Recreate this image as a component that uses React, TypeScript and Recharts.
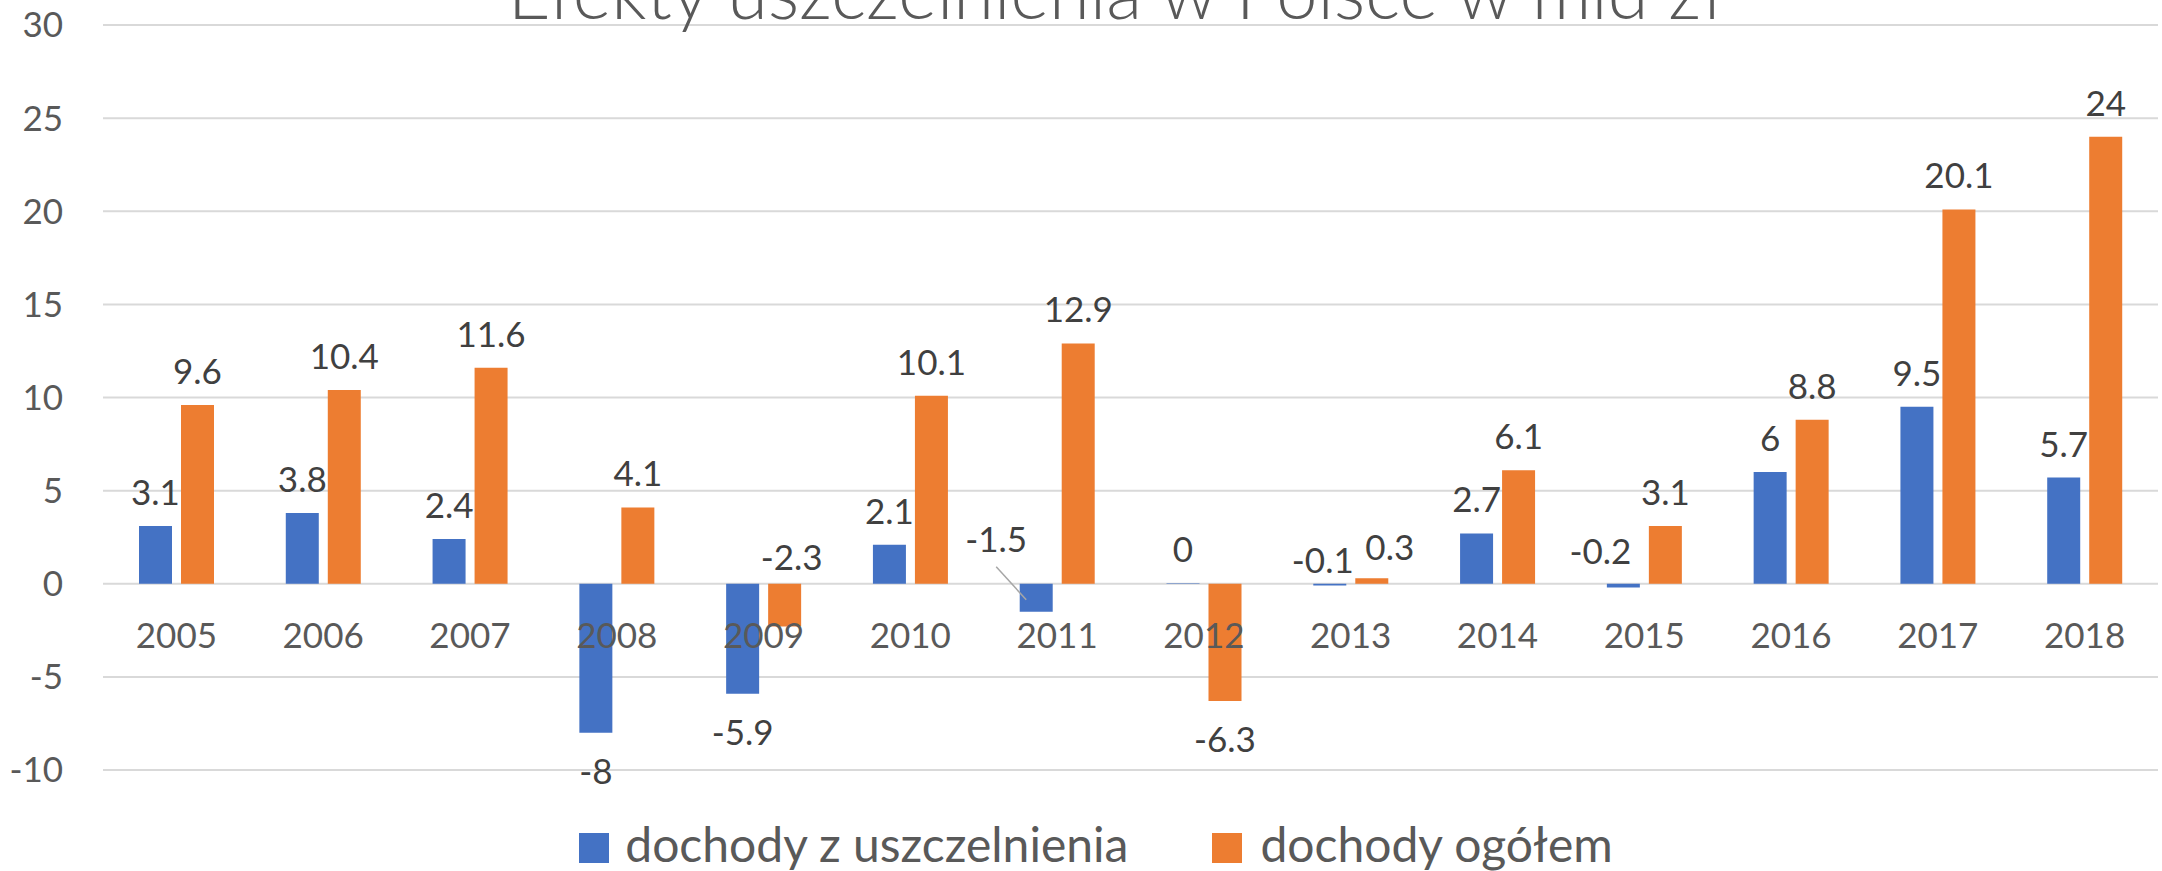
import React from 'react';
import {
  ComposedChart,
  Bar,
  Line,
  XAxis,
  YAxis,
  CartesianGrid,
  Legend,
  LabelList,
} from 'recharts';

const years = ['2005', '2006', '2007', '2008', '2009', '2010', '2011', '2012', '2013', '2014', '2015', '2016', '2017', '2018'];
const dochodyZUszczelnienia = [3.1, 3.8, 2.4, -8, -5.9, 2.1, -1.5, 0, -0.1, 2.7, -0.2, 6, 9.5, 5.7];
const dochodyOgolem = [9.6, 10.4, 11.6, 4.1, -2.3, 10.1, 12.9, -6.3, 0.3, 6.1, 3.1, 8.8, 20.1, 24];
const yTicks = [-10, -5, 0, 5, 10, 15, 20, 25, 30];

const BLUE = '#4472C4';
const ORANGE = '#ED7D31';
const FONT = "Lato, 'Open Sans', sans-serif";

const data = years.map((year, i) => ({
  year,
  uszczelnienie: dochodyZUszczelnienia[i],
  ogolem: dochodyOgolem[i],
}));

// hand-moved labels in the original chart: [dx, dy from default spot, leader line]
const labelNudge: Record<string, [number, number, boolean?]> = {
  'uszczelnienie:2011': [-40, -18, true],
  'uszczelnienie:2013': [-7, 3, false],
  'ogolem:2013': [18, 3, false],
  'uszczelnienie:2015': [-23, -6, false],
  'ogolem:2009': [7, 0, false],
};

function makeValueLabel(series: 'uszczelnienie' | 'ogolem') {
  return (props: any) => {
    const { x, y, width, height, value, index } = props;
    const top = Math.min(y, y + height);
    const bottom = Math.max(y, y + height);
    const cx = x + width / 2;
    const nudge = labelNudge[series + ':' + years[index]];
    let ty: number;
    if (value >= 0) ty = top - 21;
    else if (value > -3) ty = top - 14;
    else ty = bottom + 51;
    let tx = cx;
    let leader = null;
    if (nudge) {
      tx += nudge[0];
      ty += nudge[1];
      if (nudge[2]) {
        leader = <line x1={tx} y1={ty + 15} x2={cx - 10} y2={top + 16} stroke="#a6a6a6" strokeWidth={1.5} />;
      }
    }
    return (
      <g>
        {leader}
        <text x={tx} y={ty} textAnchor="middle" fill="#404040" fontSize={35} fontFamily={FONT}>
          {String(value)}
        </text>
      </g>
    );
  };
}

const YearLabel = (props: any) => {
  const { x, y, value } = props;
  return (
    <text x={x} y={y + 64} textAnchor="middle" fill="#595959" fontSize={35} fontFamily={FONT}>
      {value}
    </text>
  );
};

const renderLegend = () => (
  <div style={{ display: 'flex', justifyContent: 'center', height: 40, fontFamily: FONT, color: '#595959', paddingLeft: 30 }}>
    <div style={{ display: 'flex', alignItems: 'flex-start', marginRight: 84 }}>
      <div style={{ width: 30, height: 30, background: BLUE, marginTop: 9, marginRight: 16 }} />
      <span style={{ fontSize: 48, lineHeight: '40px' }}>dochody z uszczelnienia</span>
    </div>
    <div style={{ display: 'flex', alignItems: 'flex-start' }}>
      <div style={{ width: 30, height: 30, background: ORANGE, marginTop: 9, marginRight: 18 }} />
      <span style={{ fontSize: 48, lineHeight: '40px' }}>dochody ogółem</span>
    </div>
  </div>
);

export default function App() {
  return (
    <div style={{ position: 'absolute', left: 0, top: 0, width: 2162, height: 871, background: '#fff', overflow: 'hidden' }}>
      <ComposedChart
        width={2162}
        height={871}
        data={data}
        margin={{ top: 25, right: 4, left: 0, bottom: 61 }}
        barGap={9}
      >
        <CartesianGrid vertical={false} stroke="#d9d9d9" strokeWidth={2} />
        <XAxis dataKey="year" hide />
        <YAxis
          domain={[-10, 30]}
          ticks={yTicks}
          interval={0}
          axisLine={false}
          tickLine={false}
          tickSize={0}
          tickMargin={40}
          width={103}
          tick={{ fill: '#595959', fontSize: 35, fontFamily: FONT }}
        />
        <Legend
          content={renderLegend}
          wrapperStyle={{ position: 'absolute', left: 0, top: 824, bottom: 'auto', width: 2162 }}
        />
        <Bar
          dataKey="uszczelnienie"
          name="dochody z uszczelnienia"
          fill={BLUE}
          barSize={33}
          minPointSize={(v: number) => (v === 0 ? 0.5 : 0)}
          isAnimationActive={false}
        >
          <LabelList dataKey="uszczelnienie" content={makeValueLabel('uszczelnienie')} />
        </Bar>
        <Bar dataKey="ogolem" name="dochody ogółem" fill={ORANGE} barSize={33} isAnimationActive={false}>
          <LabelList dataKey="ogolem" content={makeValueLabel('ogolem')} />
        </Bar>
        <Line
          dataKey={() => 0}
          stroke="none"
          dot={false}
          activeDot={false}
          legendType="none"
          isAnimationActive={false}
        >
          <LabelList dataKey="year" content={YearLabel} />
        </Line>
      </ComposedChart>
      <svg width={2162} height={60} style={{ position: 'absolute', left: 0, top: 0, pointerEvents: 'none' }}>
        <text x={1115} y={19} textAnchor="middle" fill="#595959" fontSize={74} fontWeight={300} fontFamily={FONT}>
          Efekty uszczelnienia w Polsce w mld zł
        </text>
      </svg>
    </div>
  );
}
